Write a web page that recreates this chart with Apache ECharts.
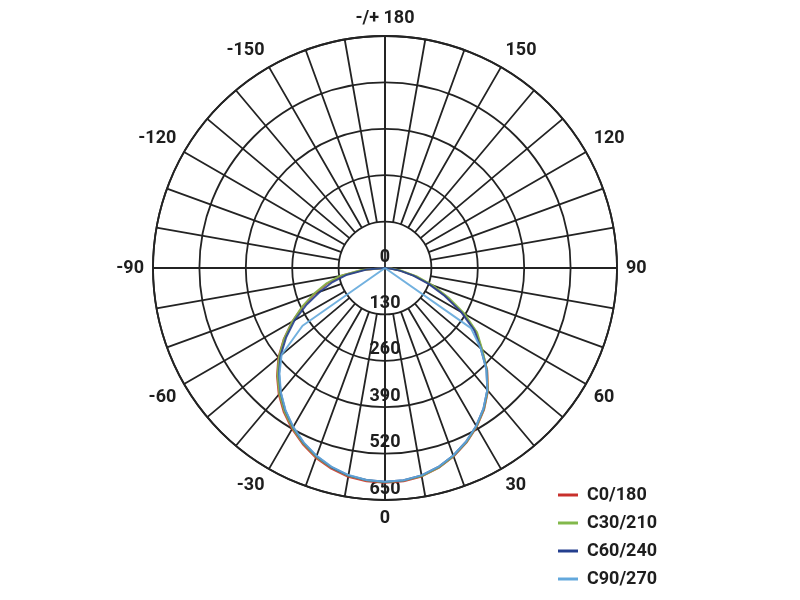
<!DOCTYPE html>
<html>
<head>
<meta charset="utf-8">
<script src="https://cdn.jsdelivr.net/npm/echarts@6/dist/echarts.min.js"></script>
<style>html,body{margin:0;padding:0;background:#fff}#c{width:800px;height:600px}</style>
</head>
<body>
<div id="c"></div>
<script>
const angles = [-90,-85,-80,-75,-70,-65,-60,-55,-50,-45,-40,-35,-30,-25,-20,-15,-10,-5,0,5,10,15,20,25,30,35,40,45,50,55,60,65,70,75,80,85,90];
const seriesNames = ['C0/180','C30/210','C60/240','C90/270'];
const seriesColors = ['#c8302c','#82b84b','#243f8e','#63a8dc'];
const c0 = [0,62,122,168,208,254,300,346,390,428,463,494,521,545,566,582,594,600,602,600,593,580,562,540,514,484,449,405,354,312,252,190,138,88,46,16,0];
const c30 = [0,66,128,172,212,256,300,345,388,426,460,491,518,542,563,579,591,597,600,598,592,579,561,539,513,483,448,404,356,315,258,196,142,92,50,18,0];
const c60 = [0,52,108,152,194,242,292,338,382,420,455,487,515,540,561,578,590,596,599,597,590,577,559,537,511,481,446,402,350,306,246,184,130,82,42,14,0];
const c90 = [0,0,0,0,0,0,0,282,378,418,454,486,514,539,560,577,589,596,599,597,590,577,559,537,511,481,446,402,350,294,0,0,0,0,0,0,0];
const radiusTicks = [0,130,260,390,520,650];
const angleTickValues = [-180,-150,-120,-90,-60,-30,0,30,60,90,120,150];
const angleTickLabels = ['-/+ 180','-150','-120','-90','-60','-30','0','30','60','90','120','150'];

const values = [c0,c30,c60,c90];
const CX = 385, CY = 268, R = 232;
const gridColor = '#232323';
const gridWidth = 1.8;
const font = 'Roboto, "DejaVu Sans", sans-serif';
const labelStyle = {color:'#1e1e1e', fontSize:18, fontWeight:'bold', fontFamily:font};

const chart = echarts.init(document.getElementById('c'), null, {renderer:'canvas'});
chart.setOption({
  animation: false,
  backgroundColor: '#fff',
  polar: [
    {center:[CX,CY], radius:R},
    {center:[CX,CY], radius:[R/5, R]},
    {center:[CX,CY], radius:R}
  ],
  angleAxis: [
    {polarIndex:0, type:'value', min:-180, max:180, interval:90, startAngle:90, clockwise:false,
     axisLine:{show:true, lineStyle:{color:gridColor, width:gridWidth}}, axisTick:{show:false}, axisLabel:{show:false},
     splitLine:{show:true, lineStyle:{color:gridColor, width:gridWidth}}},
    {polarIndex:1, type:'value', min:-180, max:180, interval:10, startAngle:90, clockwise:false,
     axisLine:{show:false}, axisTick:{show:false},
     axisLabel:Object.assign({show:true, margin:9,
       formatter: v => { const i = angleTickValues.indexOf(v === 180 ? -180 : v); return i >= 0 ? angleTickLabels[i] : ''; }}, labelStyle),
     splitLine:{show:true, lineStyle:{color:gridColor, width:gridWidth}}},
    {polarIndex:2, type:'value', min:-180, max:180, startAngle:270, show:false}
  ],
  radiusAxis: [
    {polarIndex:0, type:'value', min:radiusTicks[0], max:radiusTicks[radiusTicks.length-1], interval:130,
     axisLine:{show:false}, axisTick:{show:false}, axisLabel:{show:false},
     splitLine:{show:true, lineStyle:{color:gridColor, width:gridWidth}}},
    {polarIndex:1, type:'value', min:0, max:1, show:false},
    {polarIndex:2, type:'value', min:radiusTicks[0], max:radiusTicks[radiusTicks.length-1], interval:130,
     axisLine:{show:false}, axisTick:{show:false}, splitLine:{show:false},
     axisLabel:Object.assign({show:true, margin:0, align:'center', verticalAlign:'bottom', padding:[0,0,2,0],
       formatter: v => radiusTicks.includes(v) ? String(v) : ''}, labelStyle)}
  ],
  legend: {
    orient:'vertical', left:553, top:481, itemWidth:20, itemHeight:3, itemGap:10, icon:'rect',
    data: seriesNames,
    textStyle:Object.assign({padding:[0,0,0,4]}, labelStyle)
  },
  series: seriesNames.map((name, k) => ({
    name, type:'line', coordinateSystem:'polar', polarIndex:0,
    symbol:'none', color: seriesColors[k],
    lineStyle:{width:2, color: seriesColors[k], opacity:0.9},
    z: 3,
    data: angles.map((a, i) => [values[k][i], a])
  }))
});
</script>
</body>
</html>
